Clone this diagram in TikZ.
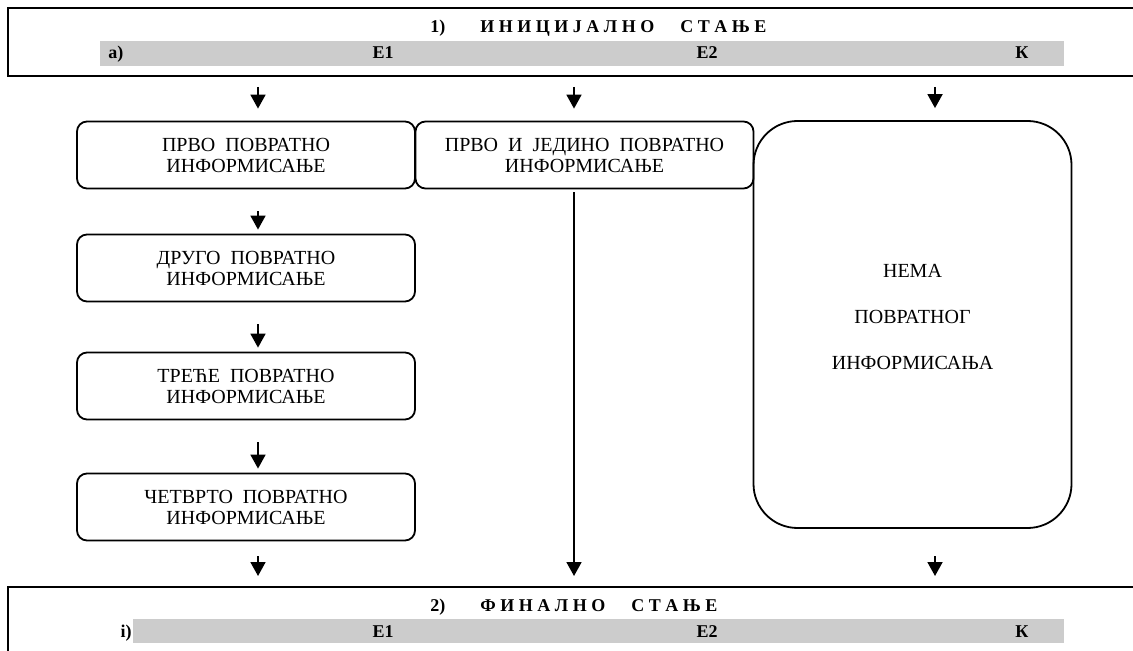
\documentclass[tikz,border=0pt]{standalone}
\usepackage{fontspec}
\setmainfont{Liberation Serif}
\usetikzlibrary{arrows.meta,positioning}
\definecolor{bandgray}{RGB}{204,204,204}

\begin{document}
\begin{tikzpicture}[
        x=0.5pt, y=-0.5pt,
        frame/.style={
            rectangle,
            draw=black,
            line width=1.2pt,
            anchor=north west,
            minimum width=575pt,
            inner sep=0pt
        },
        head/.style={
            anchor=base,
            inner sep=0pt,
            font=\fontsize{9}{10}\selectfont\bfseries
        },
        fbbox/.style={
            rectangle,
            rounded corners=5pt,
            draw=black,
            line width=0.9pt,
            minimum width=169pt,
            minimum height=33.5pt,
            inner sep=0pt,
            text centered,
            align=center,
            font=\fontsize{10}{10.5}\selectfont
        },
        nobox/.style={
            fbbox,
            rounded corners=22pt,
            minimum width=159pt,
            minimum height=203.5pt,
            text depth=8pt,
            font=\fontsize{10}{23}\selectfont
        },
        arrow/.style={
            line width=0.9pt,
            -{Triangle[width=7.5pt,length=7pt]}
        }
    ]
    \useasboundingbox (0,0) rectangle (1133,651);
    \clip (0,0) rectangle (1133,651);

    % initial state bar at the top
    \node[frame, minimum height=34pt] (initframe) at (7,7) {};
    \fill[bandgray] (100,41) rectangle (1064,66);
    \node[head, anchor=base west] (initnum) at (430,33) {1)};
    \node[head, anchor=base west] (inittitle) at (480,33) {И Н И Ц И Ј А Л Н О\hspace{13pt}С Т А Њ Е};
    \node[head, anchor=base west] (inita) at (108,59) {a)};
    \node[head] (inite1) at (383,59) {E1};
    \node[head] (inite2) at (707,59) {E2};
    \node[head] (initk) at (1022,59) {К};

    % final state bar at the bottom
    \node[frame, minimum height=40pt] (finframe) at (7,586) {};
    \fill[bandgray] (133,619) rectangle (1064,643);
    \node[head, anchor=base west] (finnum) at (430,611) {2)};
    \node[head, anchor=base west] (fintitle) at (480,611) {Ф И Н А Л Н О\hspace{13pt}С Т А Њ Е};
    \node[head, anchor=base east] (fini) at (132,637) {i)};
    \node[head] (fine1) at (383,637) {E1};
    \node[head] (fine2) at (707,637) {E2};
    \node[head] (fink) at (1022,637) {К};

    % feedback boxes
    \node[fbbox] (first) at (246,155) {ПРВО~~ПОВРАТНО\\ИНФОРМИСАЊЕ};
    \node[fbbox] (second) at (246,268) {ДРУГО~~ПОВРАТНО\\ИНФОРМИСАЊЕ};
    \node[fbbox] (third) at (246,386) {ТРЕЋЕ~~ПОВРАТНО\\ИНФОРМИСАЊЕ};
    \node[fbbox] (fourth) at (246,507) {ЧЕТВРТО~~ПОВРАТНО\\ИНФОРМИСАЊЕ};
    \node[fbbox] (only) at (584.5,155) {ПРВО~~И~~ЈЕДИНО~~ПОВРАТНО\\ИНФОРМИСАЊЕ};
    \node[nobox] (none) at (912.5,324.5) {НЕМА\\ПОВРАТНОГ\\ИНФОРМИСАЊА};

    % arrow columns
    \coordinate (topl) at (258,87);
    \coordinate (topm) at (574,87);
    \coordinate (topr) at (935,87);
    \coordinate (botl) at (258,556);
    \coordinate (botr) at (935,556);

    % connectors
    \draw[arrow, shorten >=6pt] (topl) -- (topl |- first.north);
    \draw[arrow, shorten >=6pt] (topm) -- (topm |- only.north);
    \draw[arrow, shorten >=6pt] (topr) -- (topr |- none.north);
    \draw[arrow, shorten >=2pt] ([yshift=-11pt]topl |- first.south) -- (topl |- second.north);
    \draw[arrow, shorten >=2pt] ([yshift=-11pt]topl |- second.south) -- (topl |- third.north);
    \draw[arrow, shorten >=2pt] ([yshift=-11pt]topl |- third.south) -- (topl |- fourth.north);
    \draw[arrow, shorten >=5pt] (botl) -- (botl |- finframe.north);
    \draw[arrow, shorten <=1.5pt, shorten >=5pt] (topm |- only.south) -- (topm |- finframe.north);
    \draw[arrow, shorten >=5pt] (botr) -- (botr |- finframe.north);

\end{tikzpicture}
\end{document}
